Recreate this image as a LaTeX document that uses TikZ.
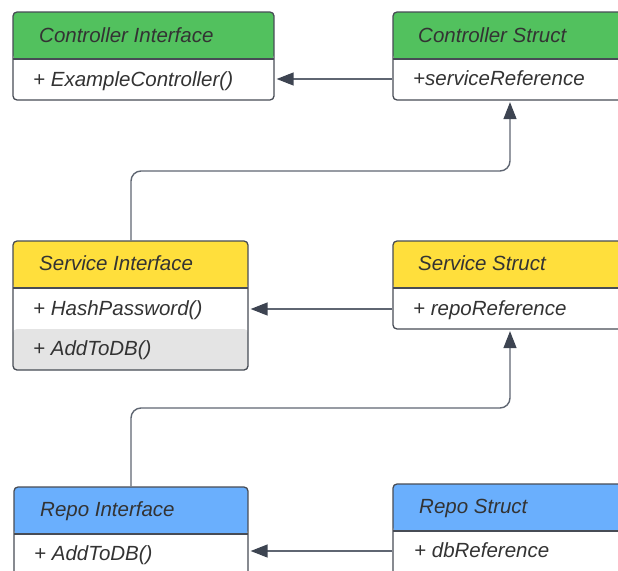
\documentclass[tikz,border=0pt]{standalone}
\usepackage{fontspec}
\setmainfont{Liberation Sans}
\usetikzlibrary{arrows.meta}
\definecolor{hdgreen}{HTML}{52C15E}
\definecolor{hdyellow}{HTML}{FFDF3C}
\definecolor{hdblue}{HTML}{6AAFFD}
\definecolor{rowgray}{HTML}{E4E4E4}
\definecolor{boxline}{HTML}{474C55}
\definecolor{connline}{HTML}{5F6672}
\definecolor{tipcol}{HTML}{3D4451}
\definecolor{txt}{HTML}{333333}
\tikzset{
  classbox/.style={draw=boxline, line width=1.3pt, rounded corners=4pt,
    fill=white, inner sep=0pt},
  divider/.style={draw=boxline, line width=1.3pt},
  header/.style n args={3}{path picture={
    \fill[#1] (path picture bounding box.north west) rectangle
      ([yshift=-#2]path picture bounding box.north east);
    #3
    \draw[divider] ([yshift=-#2]path picture bounding box.north west) --
      ([yshift=-#2]path picture bounding box.north east);}},
  label/.style={anchor=base west, inner sep=0pt, text=txt,
    font=\fontsize{20.5}{24}\selectfont\itshape},
  conn/.style={draw=connline, line width=1.4pt,
    -{Triangle[length=17pt,width=13pt,fill=tipcol,color=tipcol]}},
}
\begin{document}
\begin{tikzpicture}[x=1pt, y=-1pt]
\useasboundingbox (0,0) rectangle (618,570);
\clip (0,0) rectangle (618,570);

% controller layer
\node[classbox, minimum width=261pt, minimum height=88pt,
      header={hdgreen}{47pt}{}] (ci) at (143.5,56) {};
\node[classbox, minimum width=257pt, minimum height=88pt,
      header={hdgreen}{47pt}{}] (cs) at (521.5,56) {};
\node[label] (ciT) at (39,42) {Controller Interface};
\node[label] (ciR) at (33,86) {+ ExampleController()};
\node[label] (csT) at (418,42) {Controller Struct};
\node[label] (csR) at (413,85) {+serviceReference};

% service layer
\node[classbox, minimum width=235pt, minimum height=129pt,
      header={hdyellow}{47pt}{\fill[rowgray]
        ([yshift=-88pt]path picture bounding box.north west) rectangle
        (path picture bounding box.south east);}] (si) at (130.5,305.5) {};
\node[classbox, minimum width=257pt, minimum height=88pt,
      header={hdyellow}{47pt}{}] (ss) at (521.5,285) {};
\node[label] (siT) at (39,270) {Service Interface};
\node[label] (siR1) at (33,315) {+ HashPassword()};
\node[label] (siR2) at (33,355) {+ AddToDB()};
\node[label] (ssT) at (418,270.5) {Service Struct};
\node[label] (ssR) at (413,315) {+ repoReference};

% repo layer
\node[classbox, minimum width=234pt, minimum height=113pt,
      header={hdblue}{47pt}{}] (ri) at (131,543.5) {};
\node[classbox, minimum width=257pt, minimum height=116pt,
      header={hdblue}{47pt}{}] (rs) at (521.5,542) {};
\node[label] (riT) at (40,516.5) {Repo Interface};
\node[label] (riR) at (34,560) {+ AddToDB()};
\node[label] (rsT) at (419,513) {Repo Struct};
\node[label] (rsR) at (414,557) {+ dbReference};

% connector rows and bends
\coordinate (r1) at (0,79);
\coordinate (r2) at (0,309);
\coordinate (r3) at (0,551);
\coordinate (k1) at (131,171);
\coordinate (k2) at (131,408);
\coordinate (j) at (510,0);

\draw[conn, shorten >=2pt] (cs.west |- r1) -- (ci.east |- r1);
\draw[conn, shorten >=2pt] (ss.west |- r2) -- (si.east |- r2);
\draw[conn, shorten >=2pt] (rs.west |- r3) -- (ri.east |- r3);

\draw[conn, rounded corners=10pt, shorten >=1.5pt]
  (si.north -| k1) -- (k1) -- (k1 -| j) -- (cs.south -| j);
\draw[conn, rounded corners=10pt, shorten >=1.5pt]
  (ri.north -| k2) -- (k2) -- (k2 -| j) -- (ss.south -| j);
\end{tikzpicture}
\end{document}
